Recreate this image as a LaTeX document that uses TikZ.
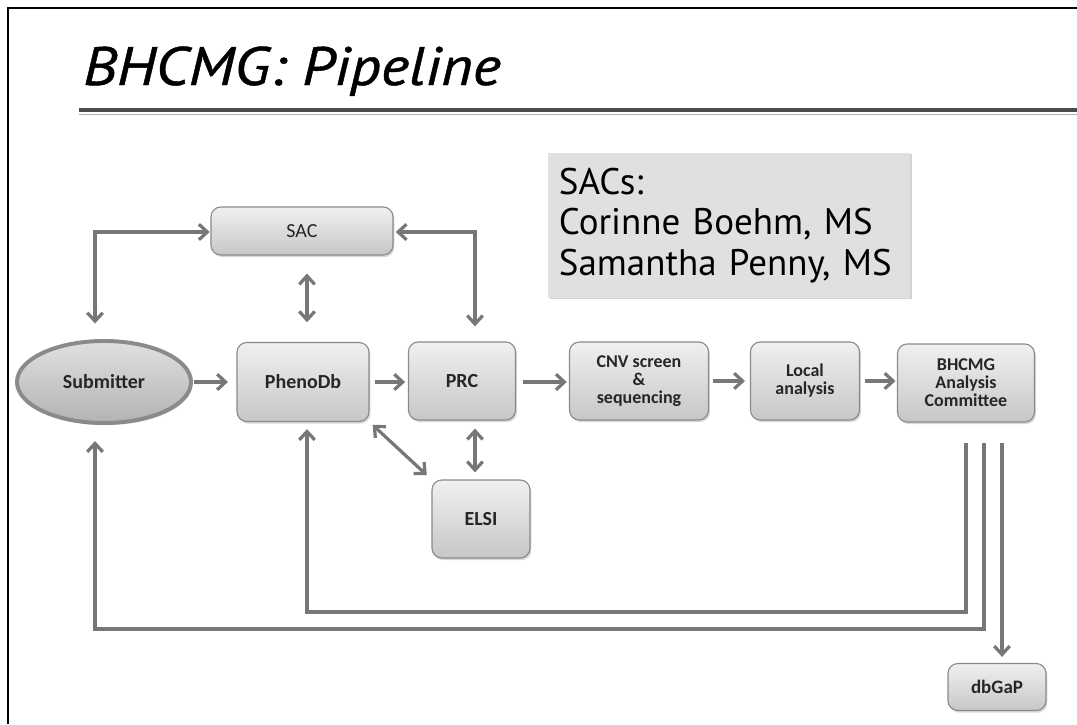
\documentclass[tikz,border=0pt]{standalone}
\usepackage{fontspec}
\setmainfont{Carlito}
\newfontfamily\sacfont{PT Sans}
\newfontfamily\titlefont{PT Sans}[FakeBold=0.8]
\usepackage{tikz}
\usetikzlibrary{calc,shapes.geometric,shadows,arrows.meta}
\definecolor{flowgray}{HTML}{777777}
\definecolor{edgegray}{HTML}{8A8A8A}
\tikzset{
  barb/.tip={Straight Barb[length=6pt,width=11pt]},
  flow/.style={draw=flowgray, line width=2.3pt, -barb},
  biflow/.style={flow, barb-barb},
  box/.style={draw=edgegray, line width=0.8pt, rounded corners=7pt,
    top color=black!6, bottom color=black!22, text=black!85, align=center,
    font=\fontsize{12.8}{12.8}\selectfont\bfseries,
    drop shadow={shadow xshift=1pt, shadow yshift=-1.5pt, opacity=.3}},
  bigbox/.style={box, font=\fontsize{14.2}{14.2}\selectfont\bfseries},
}
\def\drawflow{\draw[flow]}
\def\drawbi{\draw[biflow]}
\def\flowbox{\node[box]}

\begin{document}
\begin{tikzpicture}[x=0.025cm,y=-0.025cm]
\useasboundingbox (0,0) rectangle (1077,724);
\draw[line width=1.5pt] (8,724) -- (8,8) -- (1077,8);

% -------- title ---------
\node[anchor=base west, inner sep=0pt, font=\titlefont\itshape\fontsize{38.5}{38.5}\selectfont] (title) at (83,85) {\scalebox{1.12}[1]{BHCMG: Pipeline}};
\draw[line width=3.5pt, black!70] (79,110) -- (1077,110);
\draw[line width=1.4pt, black!30] (79,114.5) -- (1077,114.5);

\node[fill=black!12, text width=8.5cm, inner xsep=0.275cm, minimum height=3.625cm, align=left,
  drop shadow={shadow xshift=1.5pt, shadow yshift=-1pt, opacity=.35},
  font=\sacfont\fontsize{26.3}{28.8}\selectfont] (sacs) at (729,225.5)
  {SACs:\\Corinne Boehm, MS\\Samantha Penny, MS};

% -------- main row ---------
\node[ellipse, draw=edgegray, line width=2.8pt, top color=black!12, bottom color=black!30,
  minimum width=4.35cm, minimum height=2.05cm, text=black!85,
  font=\fontsize{14.2}{14.2}\selectfont\bfseries,
  drop shadow={shadow xshift=1pt, shadow yshift=-1.5pt, opacity=.3}] (sub) at (104,382) {Submitter};
\node[bigbox, minimum width=3.3cm, minimum height=1.975cm] (pheno) at (303,382) {PhenoDb};
\node[bigbox, minimum width=2.675cm, minimum height=1.95cm] (prc) at (462,381) {PRC};
\flowbox[minimum width=3.475cm, minimum height=1.95cm] (cnv) at (639,381) {CNV screen\\\&\\sequencing};
\flowbox[minimum width=2.725cm, minimum height=1.95cm] (local) at (805,381) {Local\\analysis};
\flowbox[minimum width=3.425cm, minimum height=1.95cm] (bhcmg) at (966,383) {BHCMG\\Analysis\\Committee};
\node[box, font=\fontsize{14.2}{14.2}\selectfont, minimum width=4.55cm, minimum height=1.2cm] (sac) at (302,231) {SAC};
\node[bigbox, minimum width=2.45cm, minimum height=1.95cm] (elsi) at (481,519) {ELSI};
\flowbox[font=\fontsize{13.5}{13.5}\selectfont\bfseries, minimum width=2.45cm, minimum height=1.175cm] (dbgap) at (997,687) {dbGaP};

\drawflow[shorten <=1pt, shorten >=6pt] (sub.east) -- (sub.east -| pheno.west);
\drawflow[shorten <=3.5pt, shorten >=2pt] (pheno.east) -- (pheno.east -| prc.west);
\drawflow[shorten <=5pt, shorten >=1.5pt] (prc.east |- pheno) -- (cnv.west |- pheno);
\drawflow[shorten <=3pt, shorten >=3.5pt] (cnv.east) -- (local.west);
\drawflow[shorten <=3.5pt, shorten >=1pt] (local.east) -- (local.east -| bhcmg.west);

% -------- links to SAC and ELSI ---------
\coordinate (subcorner) at (95,232);
\coordinate (prccorner) at (475,232);
\coordinate (phenox) at ($ (pheno.south) + (4,0) $);
\drawbi[shorten <=12.8pt, shorten >=14pt] ($ (sac.south) + (5,0) $) -- ($ (pheno.north) + (4,0) $);
\drawbi[shorten <=11pt, shorten >=0.5pt] (sub.north -| subcorner) -- (subcorner) -- (subcorner -| sac.west);
\drawbi[shorten <=1.5pt, shorten >=10.7pt] (prccorner -| sac.east) -- (prccorner) -- (prc.north -| prccorner);
\drawbi[shorten <=5.7pt, shorten >=5pt] (prc.south -| prccorner) -- (elsi.north -| prccorner);
\drawbi[shorten <=3pt, shorten >=4.5pt] (pheno.south east) -- (elsi.north west);

% -------- feedback from the committee ---------
\coordinate (fbA) at (966,443);
\coordinate (fbB) at (984,443);
\coordinate (fbC) at (1002,443);
\drawflow[shorten >=5pt] (fbA) -- (966,612) -- (phenox |- 0,612) -- (phenox);
\drawflow[shorten >=11.4pt] (fbB) -- (984,629) -- (subcorner |- 0,629) -- (sub.south -| subcorner);
\drawflow[shorten >=4.3pt] (fbC) -- (dbgap.north -| fbC);
\end{tikzpicture}
\end{document}
